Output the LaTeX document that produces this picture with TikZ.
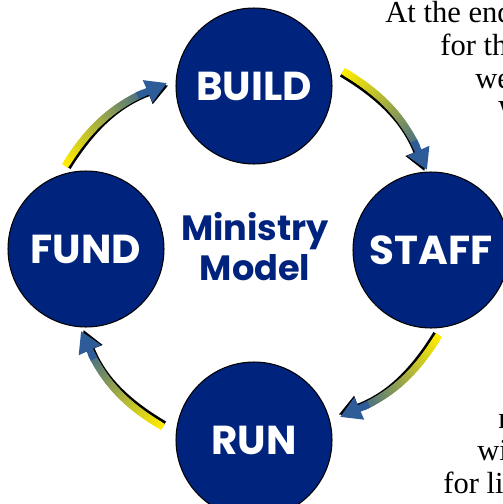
\documentclass[tikz,border=0pt]{standalone}
\usepackage{fontspec}
\setmainfont{Liberation Serif}
\newfontfamily\roundfont{Poppins}
\usetikzlibrary{calc,arrows.meta}
\definecolor{navy}{RGB}{0, 36, 125}
\definecolor{arrowyellow}{RGB}{255, 236, 0}
\definecolor{arrowblue}{RGB}{45, 92, 152}

\tikzset{
  stage/.style = {circle, draw = black, line width = 0.6pt, fill = navy, minimum size = 3.12cm,
    inner sep = 0pt, text = white, font = \roundfont\bfseries\fontsize{23}{27}\selectfont},
  title/.style = {anchor = base, inner sep = 0pt, text = navy, font = \roundfont\bfseries\fontsize{20}{23}\selectfont},
  cuttext/.style = {anchor = base west, inner sep = 0pt, font = \fontsize{17.4}{19.5}\selectfont}
}

% shaded bent arrow: start, tip, prefix
\newcommand\cyclearrow[3]{
  \draw[black, line width = 4pt, -{Triangle[width = 13pt, length = 12pt]}]
    ($(#1)!1.6pt!(hub)$) to[bend left = 19] ($(#2)!1.6pt!(hub)$);
  \foreach \k in {0,...,40}
    \path (#1) to[bend left = 19] coordinate[pos = \k/40] (#3\k) (#2);
  \foreach \k [evaluate = \k as \j using int(\k+2), evaluate = \k as \c using int(100-2.7*\k)] in {0,...,31}
    \draw[arrowyellow!\c!arrowblue, line width = 4pt] (#3\k) -- (#3\j);
  \draw[arrowblue, line width = 4pt, -{Triangle[width = 13pt, length = 12pt]}] (#331) -- (#340);
}

\begin{document}
\begin{tikzpicture}[x = 0.02cm, y = -0.02cm]
\useasboundingbox (0,0) rectangle (503,504);
\clip (0,0) rectangle (503,504);

\coordinate (hub) at (253,251);

\node[stage] (build) at (254,86) {BUILD};
\node[stage] (staff) at (431,250) {STAFF};
\node[stage] (run) at (254,440) {RUN};
\node[stage] (fund) at (86,249) {FUND};

\node[title] (ministry) at (255,240) {Ministry};
\node[title] (model) at (255,280) {Model};

\coordinate (fbs) at (65,166);
\coordinate (fbt) at (167,83);
\coordinate (bss) at (343,71);
\coordinate (bst) at (427,170);
\coordinate (srs) at (439,335);
\coordinate (srt) at (340,417);
\coordinate (rfs) at (163,427);
\coordinate (rft) at (81,331);

\cyclearrow{fbs}{fbt}{fb}
\cyclearrow{bss}{bst}{bs}
\cyclearrow{srs}{srt}{sr}
\cyclearrow{rfs}{rft}{rf}

\node[cuttext] (line1) at (385,22) {At the end};
\node[cuttext] (line2) at (440,55) {for th};
\node[cuttext] (line3) at (475,88) {we};
\node[cuttext] (line4) at (498,121) {W};
\node[cuttext] (line5) at (498,428) {r};
\node[cuttext] (line6) at (477,460) {wi};
\node[cuttext] (line7) at (443,493) {for li};
\end{tikzpicture}
\end{document}
